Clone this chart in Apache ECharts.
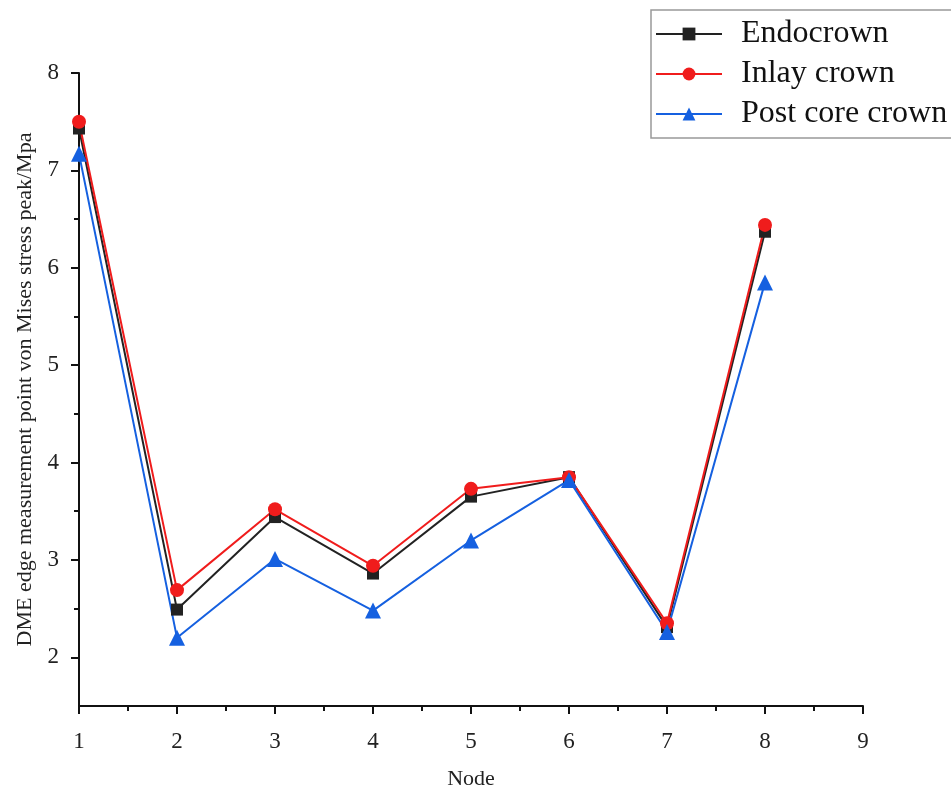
<!DOCTYPE html>
<html>
<head>
    <meta charset="utf-8">
    <title>DME edge stress</title>
    <script src="https://cdn.jsdelivr.net/npm/echarts@6/dist/echarts.min.js"></script>
    <style type="text/css">
        * {
            margin: 0;
            padding: 0;
        }

        #main {
            width: 951px;
            height: 797px;
            background: #fff;
        }
    </style>
</head>
<body>
<div id="main"></div>
<script type="text/javascript">
    // data
    var nodes = [1, 2, 3, 4, 5, 6, 7, 8];
    var endocrown = [7.43, 2.49, 3.44, 2.86, 3.65, 3.85, 2.31, 6.37];
    var inlayCrown = [7.50, 2.69, 3.52, 2.94, 3.73, 3.85, 2.35, 6.44];
    var postCoreCrown = [7.17, 2.20, 3.01, 2.48, 3.20, 3.82, 2.26, 5.85];
    var yTicks = [2, 3, 4, 5, 6, 7, 8];
    var yMinorTicks = [2.5, 3.5, 4.5, 5.5, 6.5, 7.5];

    function pairs(vals) {
        return nodes.map(function (n, i) {
            return [n, vals[i]];
        });
    }

    var serif = 'Liberation Serif';
    var myChart = echarts.init(document.getElementById('main'));

    var option = {
        animation: false,
        backgroundColor: '#fff',
        grid: {
            left: 79,
            right: 88,
            top: 73,
            bottom: 91
        },
        legend: {
            orient: 'vertical',
            left: 651,
            top: 10,
            padding: [8, 10, 8, 4],
            borderColor: '#999',
            borderWidth: 1.5,
            itemWidth: 66,
            itemHeight: 16,
            itemGap: 8,
            textStyle: {
                fontFamily: serif,
                fontSize: 32,
                color: '#111',
                padding: [0, 0, 0, 14]
            },
            data: ['Endocrown', 'Inlay crown', 'Post core crown']
        },
        xAxis: {
            type: 'value',
            min: 1,
            max: 9,
            interval: 1,
            name: 'Node',
            nameLocation: 'middle',
            nameGap: 62,
            nameTextStyle: {fontFamily: serif, fontSize: 22, color: '#222'},
            splitLine: {show: false},
            axisLine: {lineStyle: {color: '#111', width: 2}},
            axisTick: {length: 8, lineStyle: {color: '#111', width: 2}},
            minorTick: {show: true, splitNumber: 2, length: 5, lineStyle: {color: '#111', width: 2}},
            axisLabel: {fontFamily: serif, fontSize: 23, color: '#222', margin: 24}
        },
        yAxis: [
            {
                type: 'value',
                min: 1.5,
                max: 8,
                name: 'DME edge measurement point von Mises stress peak/Mpa',
                nameLocation: 'middle',
                nameGap: 42,
                nameTextStyle: {fontFamily: serif, fontSize: 22, color: '#222'},
                splitLine: {show: false},
                axisLine: {show: true, lineStyle: {color: '#111', width: 2}},
                axisTick: {show: true, length: 8, customValues: yTicks, lineStyle: {color: '#111', width: 2}},
                axisLabel: {fontFamily: serif, fontSize: 23, color: '#222', margin: 20, customValues: yTicks}
            },
            {
                type: 'value',
                min: 1.5,
                max: 8,
                position: 'left',
                splitLine: {show: false},
                axisLine: {show: false},
                axisTick: {show: true, length: 5, customValues: yMinorTicks, lineStyle: {color: '#111', width: 2}},
                axisLabel: {show: false}
            }
        ],
        series: [
            {
                name: 'Endocrown',
                type: 'line',
                data: pairs(endocrown),
                symbol: 'rect',
                symbolSize: 12,
                itemStyle: {color: '#222'},
                lineStyle: {color: '#222', width: 2}
            },
            {
                name: 'Inlay crown',
                type: 'line',
                data: pairs(inlayCrown),
                symbol: 'circle',
                symbolSize: 14,
                itemStyle: {color: '#f01c1c'},
                lineStyle: {color: '#f01c1c', width: 2}
            },
            {
                name: 'Post core crown',
                type: 'line',
                data: pairs(postCoreCrown),
                symbol: 'triangle',
                symbolSize: 16,
                itemStyle: {color: '#1560e0'},
                lineStyle: {color: '#1560e0', width: 2}
            }
        ]
    };

    myChart.setOption(option);
</script>
</body>
</html>
